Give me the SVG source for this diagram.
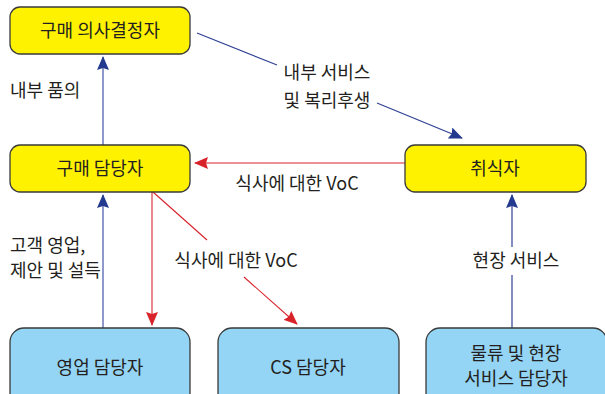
<svg xmlns="http://www.w3.org/2000/svg" width="605" height="394" viewBox="0 0 605 394">
<defs>
<marker id="ab" markerUnits="userSpaceOnUse" markerWidth="14" markerHeight="12" viewBox="0 0 14 12" refX="13" refY="6" orient="auto">
<path d="M0,0 L14,6 L0,12 L2,6 z" fill="#233a8e"/>
</marker>
<marker id="ar" markerUnits="userSpaceOnUse" markerWidth="14" markerHeight="12" viewBox="0 0 14 12" refX="13" refY="6" orient="auto">
<path d="M0,0 L14,6 L0,12 L2,6 z" fill="#d8232a"/>
</marker>
</defs>
<style>
.y{fill:#fff200;stroke:#3a3a3a;stroke-width:1.3}
.b{fill:#94d4f4;stroke:#3a3a3a;stroke-width:1.3}
text{font-family:"Noto Sans CJK KR","Noto Sans",sans-serif;font-size:18px;fill:#231f20}
.c{text-anchor:middle}
.lb{stroke:#8e98ca;stroke-width:2;fill:none}
.db{stroke:#2f4193;stroke-width:1.2;fill:none}
.rd{stroke:#d8232a;stroke-width:1.1;fill:none}
</style>
<rect width="605" height="394" fill="#ffffff"/>
<g id="connectors">
<line class="lb" x1="103" y1="145" x2="103" y2="57" marker-end="url(#ab)"/>
<line class="lb" x1="103" y1="328" x2="103" y2="195" marker-end="url(#ab)"/>
<line class="rd" x1="152" y1="192" x2="152" y2="325" marker-end="url(#ar)"/>
<line class="rd" x1="405" y1="163" x2="195" y2="163" marker-end="url(#ar)"/>
<line class="rd" x1="153" y1="192" x2="207" y2="240"/>
<line class="rd" x1="244" y1="277" x2="297" y2="324" marker-end="url(#ar)"/>
<line class="db" x1="197" y1="33" x2="277" y2="65"/>
<line class="db" x1="377" y1="103" x2="462" y2="138" marker-end="url(#ab)"/>
<line class="db" x1="512" y1="328" x2="512" y2="275"/>
<line class="db" x1="512" y1="247" x2="512" y2="195" marker-end="url(#ab)"/>
<text x="10" y="97">내부 품의</text>
<text x="327" y="79" class="c">내부 서비스</text>
<text x="327" y="107" class="c">및 복리후생</text>
<text x="297" y="190" class="c">식사에 대한 VoC</text>
<text x="10" y="252">고객 영업,</text>
<text x="10" y="277">제안 및 설득</text>
<text x="236" y="267" class="c">식사에 대한 VoC</text>
<text x="516" y="267" class="c">현장 서비스</text>
</g>
<g id="n1"><rect class="y" x="10" y="7" width="180" height="47" rx="10"/><text x="100" y="37" class="c">구매 의사결정자</text></g>
<g id="n2"><rect class="y" x="10" y="145" width="180" height="47" rx="10"/><text x="100" y="175" class="c">구매 담당자</text></g>
<g id="n3"><rect class="y" x="405" y="145" width="181" height="47" rx="10"/><text x="495" y="175" class="c">취식자</text></g>
<g id="n4"><rect class="b" x="10" y="328" width="180" height="80" rx="14"/><text x="100" y="374" class="c">영업 담당자</text></g>
<g id="n5"><rect class="b" x="218" y="328" width="181" height="80" rx="14"/><text x="308" y="374" class="c">CS 담당자</text></g>
<g id="n6"><rect class="b" x="426" y="328" width="181" height="80" rx="14"/><text x="516" y="360" class="c">물류 및 현장</text><text x="516" y="385" class="c">서비스 담당자</text></g>
</svg>
